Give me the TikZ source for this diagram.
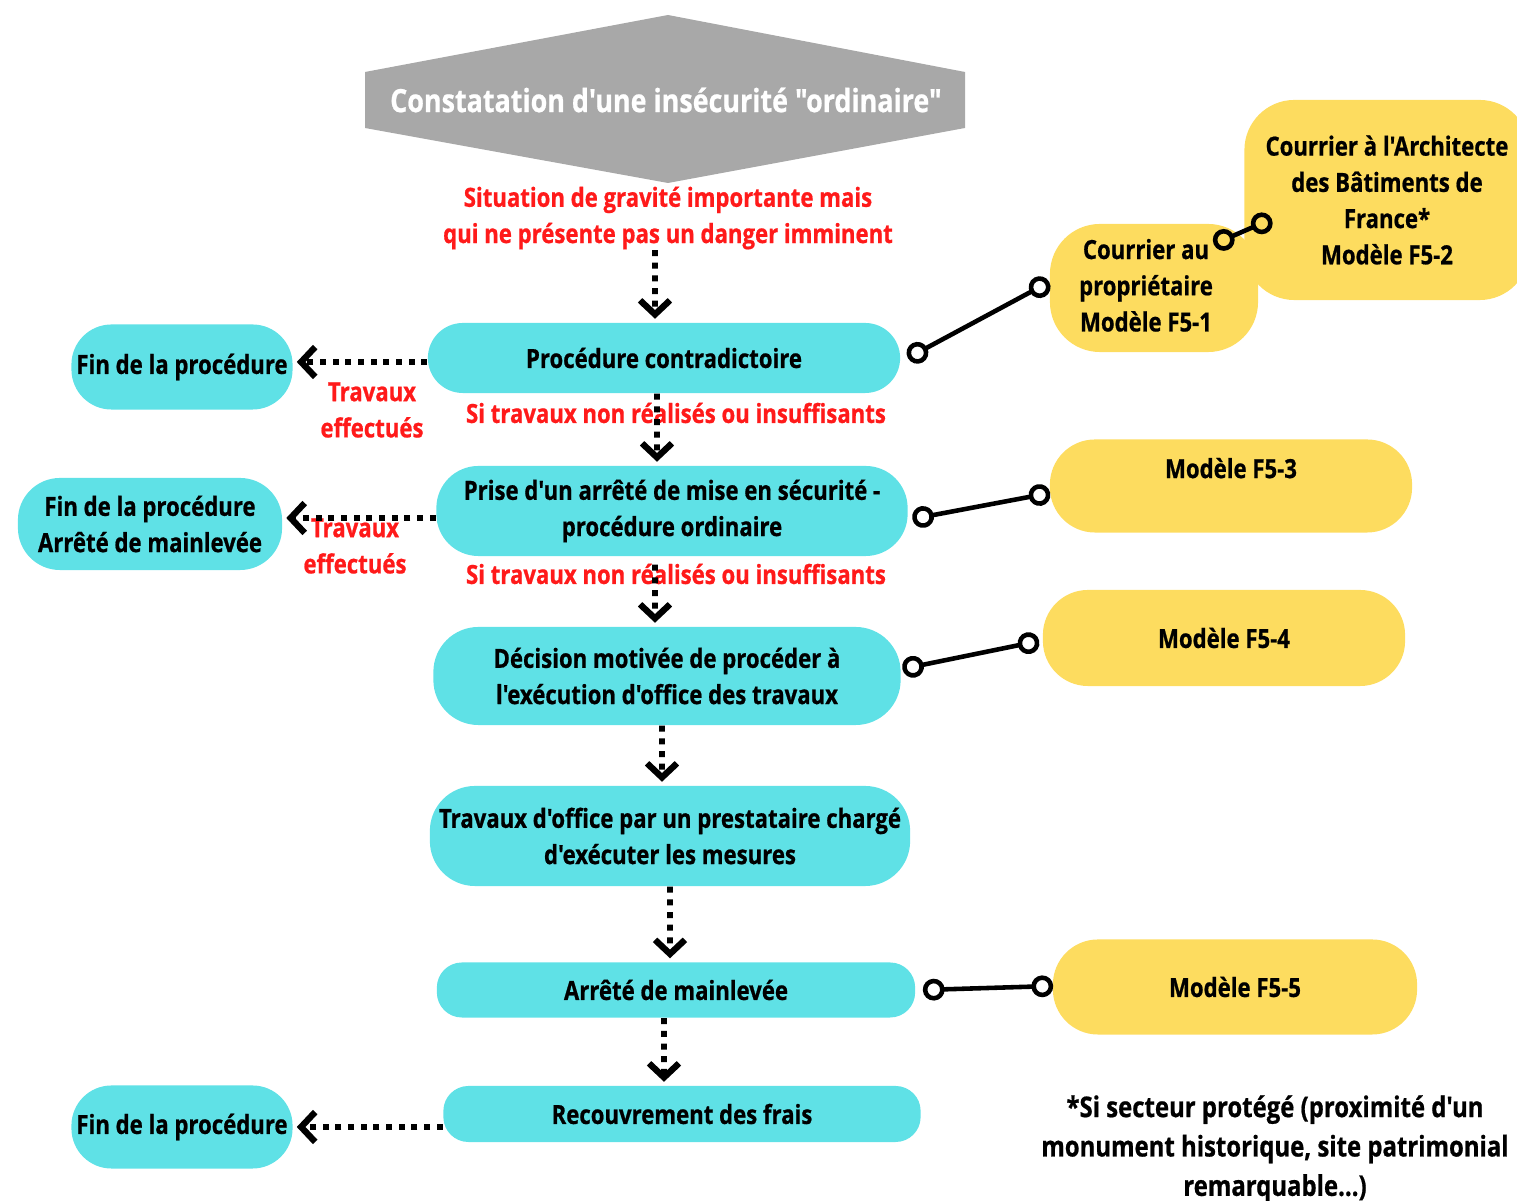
\documentclass[tikz,border=0pt]{standalone}
\usepackage{fontspec}
\usetikzlibrary{arrows.meta}
\newfontfamily\osc{Open Sans}[FakeStretch=0.84, BoldFeatures={FakeBold=0.7}]
\definecolor{cyanbox}{HTML}{5FE1E6}
\definecolor{jaune}{HTML}{FDDC5F}
\definecolor{gristitre}{HTML}{A8A8A8}
\definecolor{rouge}{HTML}{FF1A1A}
\tikzset{
  txt/.style={font=\osc\bfseries\fontsize{7.5}{10.3}\selectfont},
  etape/.style={txt, fill=cyanbox, rounded corners=0.35cm, align=center, inner sep=0pt},
  modele/.style={txt, fill=jaune, rounded corners=0.45cm, align=center, inner sep=0pt},
  remarque/.style={txt, text=rouge, align=center, inner sep=0pt},
  flux/.style={line width=1.7pt, dash pattern=on 1.7pt off 1.9pt, shorten >=1pt,
    -{Straight Barb[length=4pt,width=8.5pt,line width=1.8pt]}},
  lien/.style={line width=1.3pt, {Circle[open,length=6.2pt]}-{Circle[open,length=6.2pt]}}
}
\begin{document}
\begin{tikzpicture}[x=0.01cm,y=-0.01cm]
    \useasboundingbox (0,0) rectangle (1517,1201);
    % titre
    \fill[gristitre] (668,15) -- (965,72) -- (965,128) -- (668,183) -- (365,128) -- (365,72) -- cycle;
    \node[txt, text=white, font=\osc\bfseries\fontsize{9.1}{12}\selectfont] (titre) at (666,100) {Constatation d'une ins\'ecurit\'e "ordinaire"};
    \node[remarque] (sit) at (668,218) {Situation de gravit\'e importante mais\\qui ne pr\'esente pas un danger imminent};
    % etapes
    \node[etape, minimum width=4.72cm, minimum height=0.70cm] (pc) at (664,358) {Proc\'edure contradictoire};
    \node[etape, minimum width=4.71cm, minimum height=0.90cm, rounded corners=0.42cm] (pr) at (672,511) {Prise d'un arr\^et\'e de mise en s\'ecurit\'e -\\proc\'edure ordinaire};
    \node[etape, minimum width=4.67cm, minimum height=0.98cm, rounded corners=0.45cm] (dec) at (667,676) {D\'ecision motiv\'ee de proc\'eder \`a\\l'ex\'ecution d'office des travaux};
    \node[etape, minimum width=4.80cm, minimum height=1.00cm, rounded corners=0.45cm] (trav) at (670,836) {Travaux d'office par un prestataire charg\'e\\d'ex\'ecuter les mesures};
    \node[etape, minimum width=4.78cm, minimum height=0.55cm, rounded corners=0.25cm] (ml) at (676,990) {Arr\^et\'e de mainlev\'ee};
    \node[etape, minimum width=4.77cm, minimum height=0.56cm, rounded corners=0.25cm] (rec) at (682,1114) {Recouvrement des frais};
    % fins
    \node[etape, minimum width=2.21cm, minimum height=0.85cm, rounded corners=0.4cm] (fin1) at (182,367) {Fin de la proc\'edure};
    \node[etape, minimum width=2.64cm, minimum height=0.92cm, rounded corners=0.42cm] (fin2) at (150,524) {Fin de la proc\'edure\\Arr\^et\'e de mainlev\'ee};
    \node[etape, minimum width=2.21cm, minimum height=0.83cm, rounded corners=0.4cm] (fin3) at (182,1127) {Fin de la proc\'edure};
    % modeles
    \node[modele, minimum width=2.85cm, minimum height=2.00cm, rounded corners=0.5cm] (arch) at (1387,200) {Courrier \`a l'Architecte\\des B\^atiments de\\France*\\Mod\`ele F5-2};
    \node[modele, minimum width=2.08cm, minimum height=1.28cm, rounded corners=0.5cm] (cp) at (1154,288) {\begin{tabular}{@{}c@{}}Courrier au\\propri\'etaire\\Mod\`ele F5-1\end{tabular}\kern0.16cm};
    \node[modele, minimum width=3.62cm, minimum height=0.93cm, text depth=0.36cm] (m3) at (1231,486) {Mod\`ele F5-3};
    \node[modele, minimum width=3.62cm, minimum height=0.96cm] (m4) at (1224,638) {Mod\`ele F5-4};
    \node[modele, minimum width=3.64cm, minimum height=0.95cm] (m5) at (1235,987) {Mod\`ele F5-5};
    % conditions
    \node[remarque] (si1) at (676,413) {Si travaux non r\'ealis\'es ou insuffisants};
    \node[remarque] (si2) at (676,574) {Si travaux non r\'ealis\'es ou insuffisants};
    \node[remarque] (te1) at (372,410) {Travaux\\effectu\'es};
    \node[remarque] (te2) at (355,546) {Travaux\\effectu\'es};
    \node[txt, align=center, font=\osc\bfseries\fontsize{8.1}{11.2}\selectfont] (note) at (1275,1149) {*Si secteur prot\'eg\'e (proximit\'e d'un\\monument historique, site patrimonial\\remarquable...)};
    % fleches
    \draw[flux] ([xshift=-0.13cm]sit.south) -- ([xshift=-0.09cm]pc.north);
    \draw[flux] ([xshift=-0.07cm]pc.south) -- ([xshift=-0.15cm]pr.north);
    \draw[flux] ([xshift=-0.17cm,yshift=-0.08cm]pr.south) -- ([xshift=-0.12cm]dec.north);
    \draw[flux] ([xshift=-0.05cm]dec.south) -- ([xshift=-0.08cm]trav.north);
    \draw[flux] (trav.south) -- ([xshift=-0.06cm]ml.north);
    \draw[flux] ([xshift=-0.12cm]ml.south) -- ([xshift=-0.18cm]rec.north);
    \draw[flux] ([yshift=-0.04cm]pc.west) -- ([yshift=-0.04cm]pc.west -| fin1.east);
    \draw[flux] ([yshift=-0.07cm]pr.west) -- ([yshift=-0.07cm]pr.west -| fin2.east);
    \draw[flux] (rec.west |- fin3.east) -- (fin3.east);
    % liens modeles
    \draw[lien] ([xshift=0.07cm]pc.east) -- ([yshift=0.06cm]cp.west);
    \draw[lien] ([xshift=-0.45cm,yshift=-0.21cm]cp.north east) -- ([xshift=0.28cm,yshift=-0.19cm]arch.west);
    \draw[lien] ([xshift=0.04cm,yshift=-0.08cm]pr.east) -- ([xshift=0.01cm,yshift=-0.07cm]m3.west);
    \draw[lien] ([xshift=0.01cm,yshift=0.07cm]dec.east) -- ([xshift=-0.03cm,yshift=-0.03cm]m4.west);
    \draw[lien] ([xshift=0.07cm]ml.east) -- ([xshift=0.01cm,yshift=0.01cm]m5.west);
\end{tikzpicture}
\end{document}
